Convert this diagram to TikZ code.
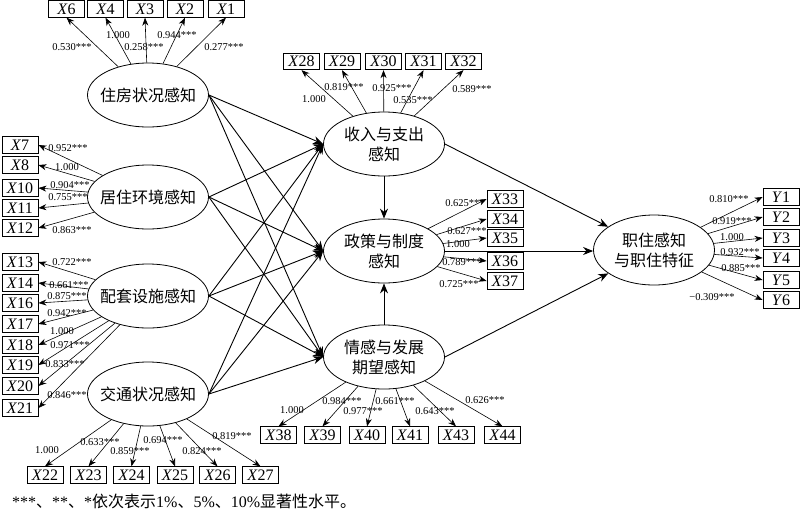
\documentclass[tikz,border=0pt]{standalone}
\usepackage{fontspec}
\setmainfont{Liberation Serif}
\newfontfamily\cjk{Noto Sans CJK SC}
\usetikzlibrary{shapes.geometric,arrows.meta}
\begin{document}
\begin{tikzpicture}[x=1pt,y=-1pt,
  lat/.style={ellipse,draw,line width=0.8pt,minimum width=121pt,minimum height=64pt,inner sep=0pt},
  lattext/.style={font=\cjk\fontsize{16}{20}\selectfont,align=center,inner sep=0pt},
  obs/.style={draw,line width=0.8pt,minimum width=36pt,minimum height=16.5pt,inner sep=0pt,font=\fontsize{16}{16}\selectfont},
  ld/.style={-{Stealth[length=8pt,width=6pt]},line width=0.6pt},
  st/.style={-{Stealth[length=10pt,width=8pt]},line width=0.9pt},
  cf/.style={font=\fontsize{10.5}{10.5}\selectfont,inner sep=0pt},
]
\useasboundingbox (0,0) rectangle (800,512);
% latent variables
\node[lat,label={[lattext]center:住房状况感知}] (h) at (148,95) {};
\node[lat,label={[lattext]center:居住环境感知}] (j) at (148,197) {};
\node[lat,label={[lattext]center:配套设施感知}] (p) at (148,296) {};
\node[lat,label={[lattext]center:交通状况感知}] (t) at (148,394) {};
\node[lat,label={[lattext]center:收入与支出\\感知}] (s) at (384,144) {};
\node[lat,label={[lattext]center:政策与制度\\感知}] (z) at (384,251) {};
\node[lat,label={[lattext]center:情感与发展\\期望感知}] (q) at (384,357) {};
\node[lat,minimum height=70pt,label={[lattext]center:职住感知\\与职住特征}] (w) at (654,250) {};
% observed: top left
\node[obs] (X6) at (66.5,9) {\textit{X}6};
\node[obs] (X4) at (105.5,9) {\textit{X}4};
\node[obs] (X3) at (145,9) {\textit{X}3};
\node[obs] (X2) at (185,9) {\textit{X}2};
\node[obs] (X1) at (226,9) {\textit{X}1};
% left column
\node[obs] (X7) at (20,145) {\textit{X}7};
\node[obs] (X8) at (20,165) {\textit{X}8};
\node[obs] (X10) at (20,188) {\textit{X}10};
\node[obs] (X11) at (20,208) {\textit{X}11};
\node[obs] (X12) at (20,228) {\textit{X}12};
\node[obs] (X13) at (20,262) {\textit{X}13};
\node[obs] (X14) at (20,283) {\textit{X}14};
\node[obs] (X16) at (20,303) {\textit{X}16};
\node[obs] (X17) at (20,324) {\textit{X}17};
\node[obs] (X18) at (20,345) {\textit{X}18};
\node[obs] (X19) at (20,365) {\textit{X}19};
\node[obs] (X20) at (20,386) {\textit{X}20};
\node[obs] (X21) at (20,408) {\textit{X}21};
% bottom left
\node[obs] (X22) at (45,475) {\textit{X}22};
\node[obs] (X23) at (88.5,475) {\textit{X}23};
\node[obs] (X24) at (131.5,475) {\textit{X}24};
\node[obs] (X25) at (175,475) {\textit{X}25};
\node[obs] (X26) at (217.5,475) {\textit{X}26};
\node[obs] (X27) at (260.5,475) {\textit{X}27};
% top middle
\node[obs] (X28) at (301.5,61.5) {\textit{X}28};
\node[obs] (X29) at (342,61.5) {\textit{X}29};
\node[obs] (X30) at (383.5,61.5) {\textit{X}30};
\node[obs] (X31) at (423.5,61.5) {\textit{X}31};
\node[obs] (X32) at (463.5,61.5) {\textit{X}32};
% middle right
\node[obs] (X33) at (505,199) {\textit{X}33};
\node[obs] (X34) at (505,219) {\textit{X}34};
\node[obs] (X35) at (505,238) {\textit{X}35};
\node[obs] (X36) at (505,261) {\textit{X}36};
\node[obs] (X37) at (505,281) {\textit{X}37};
% bottom middle
\node[obs] (X38) at (278.5,435) {\textit{X}38};
\node[obs] (X39) at (322.5,435) {\textit{X}39};
\node[obs] (X40) at (367,435) {\textit{X}40};
\node[obs] (X41) at (410,435) {\textit{X}41};
\node[obs] (X43) at (456,435) {\textit{X}43};
\node[obs] (X44) at (502.5,435) {\textit{X}44};
% right
\node[obs] (Y1) at (781,197) {\textit{Y}1};
\node[obs] (Y2) at (781,217) {\textit{Y}2};
\node[obs] (Y3) at (781,238) {\textit{Y}3};
\node[obs] (Y4) at (781,258) {\textit{Y}4};
\node[obs] (Y5) at (781,280) {\textit{Y}5};
\node[obs] (Y6) at (781,300) {\textit{Y}6};
% loadings
\foreach \b in {X6,X4,X3,X2,X1} \draw[ld] (h) -- (\b.south);
\foreach \b in {X7,X8,X10,X11,X12} \draw[ld] (j) -- (\b.east);
\foreach \b in {X13,X14,X16,X17,X18,X19,X20,X21} \draw[ld] (p) -- (\b.east);
\foreach \b in {X22,X23,X24,X25,X26,X27} \draw[ld] (t) -- (\b.north);
\foreach \b in {X28,X29,X30,X31,X32} \draw[ld] (s) -- (\b.south);
\foreach \b in {X33,X34,X35,X36,X37} \draw[ld] (z) -- (\b.west);
\foreach \b in {X38,X39,X40,X41,X43,X44} \draw[ld] (q) -- (\b.north);
\foreach \b in {Y1,Y2,Y3,Y4,Y5,Y6} \draw[ld] (w) -- (\b.west);
% structural paths
\foreach \a in {h,j,p,t} \foreach \b in {s,z,q} \draw[st] (\a.east) -- (\b.west);
\draw[st] (s.east) -- (w);
\draw[st] (z.east) -- (z.east -| w.west);
\draw[st] (q.east) -- (w);
\draw[st] (s) -- (z);
\draw[st] (q) -- (z);
% coefficients
\node[cf] (c6) at (72,47) {0.530***};
\node[cf] (c4) at (118,35) {1.000};
\node[cf] (c3) at (144,47) {0.258***};
\node[cf] (c2) at (177,35) {0.944***};
\node[cf] (c1) at (224,47) {0.277***};
\node[cf] (c7) at (68,148) {0.952***};
\node[cf] (c8) at (67,167) {1.000};
\node[cf] (c10) at (70,185) {0.904***};
\node[cf] (c11) at (68,197) {0.755***};
\node[cf] (c12) at (72,230) {0.863***};
\node[cf] (c13) at (72,262) {0.722***};
\node[cf] (c14) at (69,285) {0.661***};
\node[cf] (c16) at (67,296) {0.875***};
\node[cf] (c17) at (67,313) {0.942***};
\node[cf] (c18) at (62,331) {1.000};
\node[cf] (c19) at (70,345) {0.971***};
\node[cf] (c20) at (65,364) {0.833***};
\node[cf] (c21) at (67,395) {0.846***};
\node[cf] (c22) at (47,450) {1.000};
\node[cf] (c23) at (100,442) {0.633***};
\node[cf] (c24) at (130,451) {0.859***};
\node[cf] (c25) at (163,440) {0.694***};
\node[cf] (c26) at (202,451) {0.824***};
\node[cf] (c27) at (232,436) {0.819***};
\node[cf] (c28) at (314,99) {1.000};
\node[cf] (c29) at (344,87) {0.819***};
\node[cf] (c30) at (392,88) {0.925***};
\node[cf] (c31) at (413,100) {0.535***};
\node[cf] (c32) at (472,89) {0.589***};
\node[cf] (c33) at (465,203) {0.625***};
\node[cf] (c34) at (467,231) {0.627***};
\node[cf] (c35) at (458,244) {1.000};
\node[cf] (c36) at (462,262) {0.789***};
\node[cf] (c37) at (459,284) {0.725***};
\node[cf] (c38) at (292,410) {1.000};
\node[cf] (c39) at (342,401) {0.984***};
\node[cf] (c40) at (363,411) {0.977***};
\node[cf] (c41) at (395,401) {0.661***};
\node[cf] (c43) at (435,411) {0.643***};
\node[cf] (c44) at (485,400) {0.626***};
\node[cf] (cy1) at (729,199) {0.810***};
\node[cf] (cy2) at (732,221) {0.919***};
\node[cf] (cy3) at (732,237) {1.000};
\node[cf] (cy4) at (740,252) {0.932***};
\node[cf] (cy5) at (741,268) {0.885***};
\node[cf] (cy6) at (712,297) {−0.309***};
% footnote
\node[anchor=west,inner sep=0pt,font=\fontsize{16}{16}\selectfont] (fn) at (12,501)
  {***{\cjk 、}**{\cjk 、}*{\cjk 依次表示}1\%{\cjk 、}5\%{\cjk 、}10\%{\cjk 显著性水平。}};
\end{tikzpicture}
\end{document}
